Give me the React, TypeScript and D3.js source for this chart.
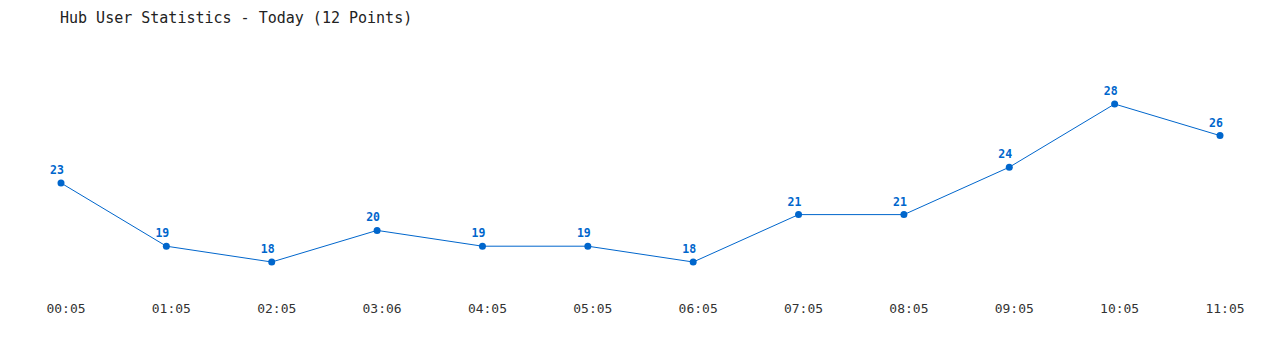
import React from "react";
import * as d3 from "d3";

const categories = ["00:05","01:05","02:05","03:06","04:05","05:05","06:05","07:05","08:05","09:05","10:05","11:05"];
const values = [23, 19, 18, 20, 19, 19, 18, 21, 21, 24, 28, 26];
const title = "Hub User Statistics - Today (12 Points)";

export default function App() {
  const W = 1280, H = 350;
  const x = d3.scalePoint<string>().domain(categories).range([61, 1220]);
  const y = d3.scaleLinear().domain([18, 28]).range([262, 104]);
  const line = d3.line<number>().x((_, i) => x(categories[i])!).y(d => y(d));
  const color = "#0066cc";
  const font = "'DejaVu Sans Mono', monospace";
  return (
    <svg width={W} height={H} style={{ position: "absolute", left: 0, top: 0, background: "#fff" }}>
      <rect width={W} height={H} fill="#fff" />
      <text x={60} y={23} fontFamily={font} fontSize={15} fill="#222">{title}</text>
      <path d={line(values) || ""} fill="none" stroke={color} strokeWidth={1} />
      {values.map((v, i) => (
        <g key={i}>
          <circle cx={x(categories[i])} cy={y(v)} r={3.5} fill={color} />
          <text x={x(categories[i])! - 4} y={y(v) - 9} textAnchor="middle" fontFamily={font} fontSize={11.5} fontWeight="bold" fill={color}>{v}</text>
        </g>
      ))}
      {categories.map((c, i) => (
        <text key={c} x={x(c)! + 5} y={313} textAnchor="middle" fontFamily={font} fontSize={13} fill="#333">{c}</text>
      ))}
    </svg>
  );
}
